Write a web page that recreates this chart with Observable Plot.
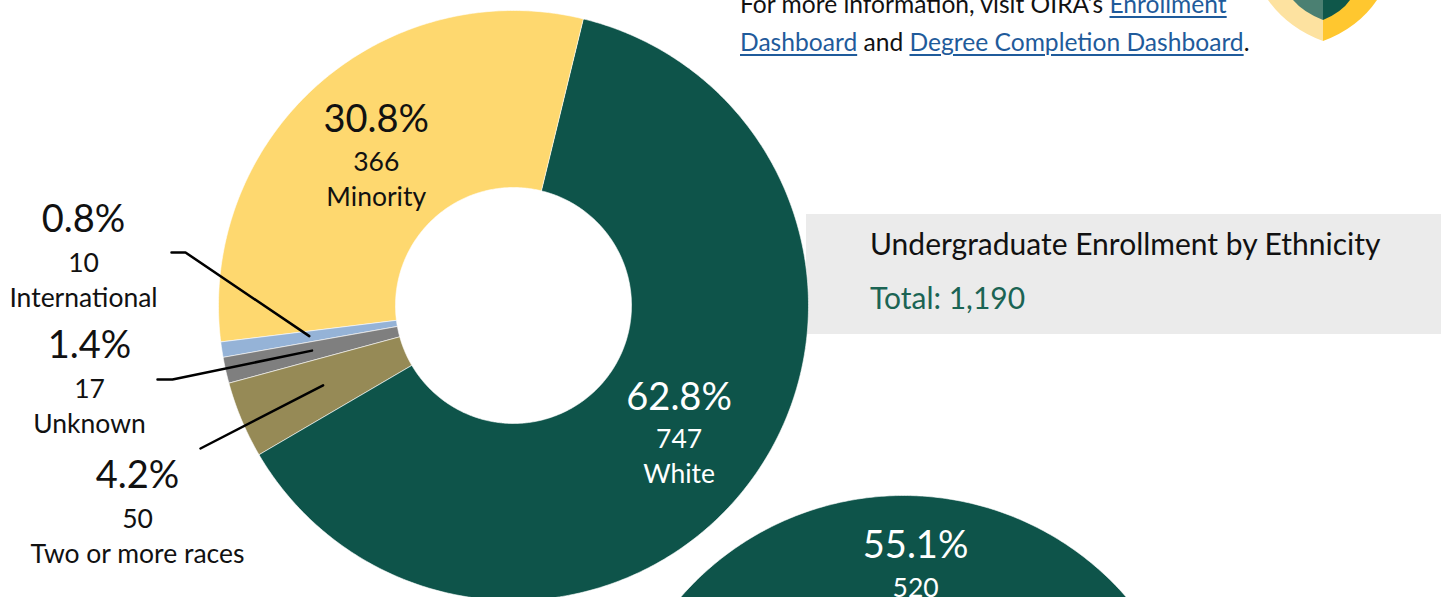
<!DOCTYPE html>
<html>
<head>
<meta charset="utf-8">
<script src="https://cdn.jsdelivr.net/npm/d3@7"></script>
<script src="https://cdn.jsdelivr.net/npm/@observablehq/plot@0.6"></script>
<style>
  html, body { margin: 0; padding: 0; background: #fff; overflow: hidden; }
  #wrap { position: relative; width: 1445px; height: 597px; overflow: hidden; font-family: Lato, "Open Sans", sans-serif; }
  #box { position: absolute; left: 806px; top: 214px; width: 635px; height: 120px; background: #ebebeb; }
  #chart { position: absolute; left: 0; top: 0; }
  #title { position: absolute; left: 870px; top: 225px; font-size: 30px; color: #111; white-space: nowrap; }
  #total { position: absolute; left: 870px; top: 279px; font-size: 30px; color: #1b6454; white-space: nowrap; }
  #info { position: absolute; left: 740px; top: -15px; font-size: 24.6px; line-height: 38px; color: #111; white-space: nowrap; }
  #info a { color: #1f5b9b; text-decoration: underline; text-decoration-thickness: 2px; text-underline-offset: 3px; }
  #logo { position: absolute; left: 0; top: 0; }
</style>
</head>
<body>
<div id="wrap">
  <div id="box"></div>
  <div id="chart"></div>
  <div id="title">Undergraduate Enrollment by Ethnicity</div>
  <div id="total"></div>
  <div id="info">For more information, visit OIRA’s <a>Enrollment</a><br><a>Dashboard</a> and <a>Degree Completion Dashboard</a>.</div>
  <svg id="logo" width="1445" height="60" viewBox="0 0 1445 60">
    <path d="M1268,0 Q1288,28 1323,41 L1323,0 Z" fill="#fde2a0"/>
    <path d="M1377,0 Q1358,28 1323,41 L1323,0 Z" fill="#ffc72f"/>
    <path d="M1293,0 Q1303,12 1323,20 L1323,0 Z" fill="#4b8072"/>
    <path d="M1350,0 Q1342,12 1323,20 L1323,0 Z" fill="#0f574a"/>
  </svg>
</div>
<script>
// ---- data: undergraduate enrollment by ethnicity ----
const categories = ["White", "Two or more races", "Unknown", "International", "Minority"];
const counts = [747, 50, 17, 10, 366];

// ---- data: second (partially visible) donut ----
const secondCategories = ["Shown", "Hidden"];
const secondCounts = [520, 424];

// ---- styles ----
const sliceColors = ["#0e544a", "#968a56", "#7f7f7f", "#95b3d7", "#fed86f"];
const secondColors = ["#0e544a", "#fed86f"];
const insideTextColors = {"White": "#ffffff", "Minority": "#111111"};

// ---- layout (pixel units of the page) ----
const donut1 = {cx: 513, cy: 305, r0: 118, r1: 295, start: 13.7};
const donut2 = {cx: 903, cy: 790, r0: 118, r1: 295, start: -95.8};
const outsideLabels = {
  "International": {x: 83, y: 219, anchor: [[171, 252], [185, 252]]},
  "Unknown": {x: 89, y: 345, anchor: [[157, 379], [172, 379]]},
  "Two or more races": {x: 137, y: 475, anchor: [[200, 448]]}
};
const PCT = 38, SUB = 26.5;

const fmtPct = d3.format(".1%");
const fmtNum = d3.format(",");
const total = d3.sum(counts);
document.getElementById("total").textContent = "Total: " + fmtNum(total);

function arcs(names, values, colors, g) {
  const rad = Math.PI / 180;
  const pie = d3.pie().sort(null).startAngle(g.start * rad).endAngle(g.start * rad + 2 * Math.PI);
  const sum = d3.sum(values);
  return pie(values).map((a, i) => {
    const mid = (a.startAngle + a.endAngle) / 2;
    const rm = (g.r0 + g.r1) / 2;
    return {
      name: names[i], value: values[i], pct: fmtPct(values[i] / sum), color: colors[i],
      a0: a.startAngle, a1: a.endAngle,
      cxm: g.cx + rm * Math.sin(mid), cym: g.cy - rm * Math.cos(mid), g
    };
  });
}
function ring(list) {
  const pts = [];
  for (const s of list) {
    const n = Math.max(4, Math.ceil((s.a1 - s.a0) / 0.01));
    for (let k = 0; k <= n; k++) {
      const a = s.a0 + (s.a1 - s.a0) * k / n;
      pts.push({key: s.name, color: s.color, x: s.g.cx + s.g.r1 * Math.sin(a), y: s.g.cy - s.g.r1 * Math.cos(a)});
    }
    for (let k = n; k >= 0; k--) {
      const a = s.a0 + (s.a1 - s.a0) * k / n;
      pts.push({key: s.name, color: s.color, x: s.g.cx + s.g.r0 * Math.sin(a), y: s.g.cy - s.g.r0 * Math.cos(a)});
    }
  }
  return pts;
}

const s1 = arcs(categories, counts, sliceColors, donut1);
const s2 = arcs(secondCategories, secondCounts, secondColors, donut2);
const pts1 = ring(s1);
const pts2 = ring(s2).map(d => ({...d, key: "2-" + d.key}));

const inside1 = s1.filter(d => insideTextColors[d.name]);
const inside2 = s2.slice(0, 1);
const outside = s1.filter(d => outsideLabels[d.name]).map(d => ({...d, lx: outsideLabels[d.name].x, ly: outsideLabels[d.name].y}));
const leaders = outside.flatMap(d =>
  [...outsideLabels[d.name].anchor, [d.cxm, d.cym]].map(([x, y]) => ({key: d.name, x, y})));

const font = "Lato, 'Open Sans', sans-serif";
const plot = Plot.plot({
  width: 1445, height: 597, margin: 0,
  style: {background: "transparent", overflow: "hidden"},
  x: {domain: [0, 1445], range: [0, 1445], axis: null},
  y: {domain: [0, 597], range: [0, 597], axis: null},
  color: {type: "identity"},
  marks: [
    Plot.line(pts2, {x: "x", y: "y", z: "key", fill: "color", stroke: "white", strokeWidth: 0.6, curve: "linear-closed"}),
    Plot.line(pts1, {x: "x", y: "y", z: "key", fill: "color", stroke: "white", strokeWidth: 0.6, curve: "linear-closed"}),
    // inside labels
    Plot.text(inside1, {x: "cxm", y: d => d.cym - 31, text: "pct", fill: d => insideTextColors[d.name], fontSize: PCT, fontFamily: font}),
    Plot.text(inside1, {x: "cxm", y: d => d.cym + 11, text: d => fmtNum(d.value), fill: d => insideTextColors[d.name], fontSize: SUB, fontFamily: font}),
    Plot.text(inside1, {x: "cxm", y: d => d.cym + 46, text: "name", fill: d => insideTextColors[d.name], fontSize: SUB, fontFamily: font}),
    Plot.text(inside2, {x: "cxm", y: d => d.cym - 39, text: "pct", fill: "white", fontSize: PCT, fontFamily: font}),
    Plot.text(inside2, {x: "cxm", y: d => d.cym + 4, text: d => fmtNum(d.value), fill: "white", fontSize: SUB, fontFamily: font}),
    // outside labels
    Plot.text(outside, {x: "lx", y: "ly", text: "pct", fill: "#111", fontSize: PCT, fontFamily: font}),
    Plot.text(outside, {x: "lx", y: d => d.ly + 44, text: d => fmtNum(d.value), fill: "#111", fontSize: SUB, fontFamily: font}),
    Plot.text(outside, {x: "lx", y: d => d.ly + 79, text: "name", fill: "#111", fontSize: SUB, fontFamily: font}),
    Plot.line(leaders, {x: "x", y: "y", z: "key", stroke: "#000", strokeWidth: 2.5})
  ]
});
document.getElementById("chart").appendChild(plot);
</script>
</body>
</html>
